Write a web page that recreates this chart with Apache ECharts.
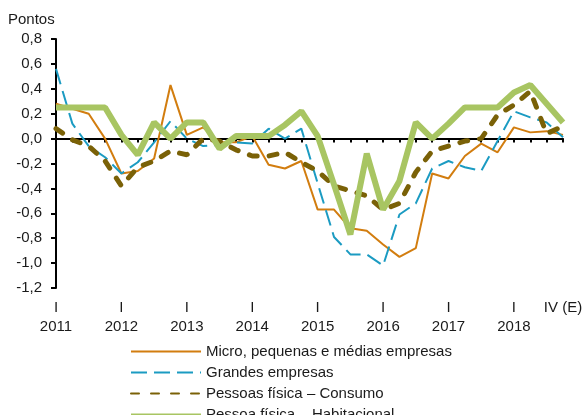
<!DOCTYPE html>
<html>
<head>
<meta charset="utf-8">
<script src="https://cdn.jsdelivr.net/npm/echarts@6/dist/echarts.min.js"></script>
<style>
html,body{margin:0;padding:0;background:#fff;}
#c{width:587px;height:415px;}
</style>
</head>
<body>
<div id="c"></div>
<script>
// Quarterly categories 2011 Q1 .. 2018 Q4
const quarters = [
  '2011 I','2011 II','2011 III','2011 IV',
  '2012 I','2012 II','2012 III','2012 IV',
  '2013 I','2013 II','2013 III','2013 IV',
  '2014 I','2014 II','2014 III','2014 IV',
  '2015 I','2015 II','2015 III','2015 IV',
  '2016 I','2016 II','2016 III','2016 IV',
  '2017 I','2017 II','2017 III','2017 IV',
  '2018 I','2018 II','2018 III','2018 IV (E)'
];
const tickLabels = [
  'I\n2011','','','',
  'I\n2012','','','',
  'I\n2013','','','',
  'I\n2014','','','',
  'I\n2015','','','',
  'I\n2016','','','',
  'I\n2017','','','',
  'I\n2018','','','IV (E)'
];
const seriesNames = [
  'Micro, pequenas e médias empresas',
  'Grandes empresas',
  'Pessoas física – Consumo',
  'Pessoa física – Habitacional'
];
const micro = [0.28,0.24,0.20,0.00,-0.28,-0.26,-0.16,0.43,0.03,0.09,-0.03,-0.03,0.02,-0.21,-0.24,-0.18,
  -0.57,-0.57,-0.72,-0.74,-0.85,-0.95,-0.88,-0.28,-0.32,-0.14,-0.04,-0.11,0.09,0.05,0.06,0.03];
const grandes = [0.56,0.12,-0.06,-0.15,-0.28,-0.19,-0.03,0.14,0.00,-0.06,-0.05,-0.03,-0.04,0.08,0.00,0.08,
  -0.36,-0.79,-0.93,-0.93,-1.02,-0.61,-0.52,-0.24,-0.18,-0.23,-0.26,-0.02,0.22,0.17,0.13,0.01];
const consumo = [0.08,-0.01,-0.06,-0.18,-0.38,-0.23,-0.18,-0.10,-0.13,0.00,-0.02,-0.09,-0.14,-0.14,-0.11,-0.19,
  -0.26,-0.38,-0.42,-0.46,-0.57,-0.52,-0.27,-0.10,-0.06,-0.02,0.00,0.19,0.27,0.38,0.04,0.10];
const habitacional = [0.25,0.25,0.25,0.25,0.03,-0.13,0.13,0.00,0.13,0.13,-0.08,0.02,0.02,0.02,0.11,0.22,
  0.02,-0.37,-0.77,-0.12,-0.57,-0.34,0.13,0.00,0.12,0.25,0.25,0.25,0.37,0.43,0.28,0.13];

const FONT = 'Liberation Sans, Arial, sans-serif';
const TXT = '#1a1a1a';

const chart = echarts.init(document.getElementById('c'), null, {renderer:'canvas'});
chart.setOption({
  animation:false,
  backgroundColor:'#ffffff',
  textStyle:{fontFamily:FONT},
  graphic:[{type:'text', left:8, top:12, style:{text:'Pontos', fontSize:15, fontFamily:FONT, fill:TXT}}],
  legend:{
    orient:'vertical', left:130, top:344, height:100, padding:0,
    itemWidth:70, itemHeight:14, itemGap:6,
    itemStyle:{opacity:0},
    textStyle:{fontSize:15, color:TXT, fontFamily:FONT},
    data:seriesNames
  },
  grid:{left:56, right:24, top:39, bottom:127, containLabel:false},
  xAxis:[
    {type:'category', data:quarters, boundaryGap:false, position:'bottom',
     axisLine:{show:true, onZero:true, lineStyle:{color:'#000', width:2}},
     axisTick:{show:true, interval:0, length:4, lineStyle:{color:'#000', width:2}},
     axisLabel:{show:false}, splitLine:{show:false}},
    {type:'category', data:quarters, boundaryGap:false, position:'bottom',
     axisLine:{show:false, onZero:false}, axisTick:{show:false},
     axisLabel:{show:true, interval:0, margin:10, fontSize:15, lineHeight:19, color:TXT, fontFamily:FONT,
       formatter:function(v, i){ return tickLabels[i]; }},
     splitLine:{show:false}}
  ],
  yAxis:{
    type:'value', min:-1.2, max:0.8, interval:0.2,
    axisLine:{show:true, lineStyle:{color:'#000', width:2}},
    axisTick:{show:true, length:5, lineStyle:{color:'#000', width:2}},
    splitLine:{show:false},
    axisLabel:{margin:14, fontSize:15, color:TXT, fontFamily:FONT,
      formatter:function(v){ return v.toFixed(1).replace('.', ','); }}
  },
  series:[
    {name:seriesNames[0], type:'line', data:micro, symbol:'none', xAxisIndex:0,
     lineStyle:{color:'#d27d0f', width:2}, itemStyle:{color:'#d27d0f'}},
    {name:seriesNames[1], type:'line', data:grandes, symbol:'none', xAxisIndex:0,
     lineStyle:{color:'#1b9bc2', width:2, type:[16,7]}, itemStyle:{color:'#1b9bc2'}},
    {name:seriesNames[2], type:'line', data:consumo, symbol:'none', xAxisIndex:0,
     lineStyle:{color:'#7a6107', width:5, type:[8,12], cap:'round'}, itemStyle:{color:'#7a6107'}},
    {name:seriesNames[3], type:'line', data:habitacional, symbol:'none', xAxisIndex:0,
     lineStyle:{color:'#a8c562', width:6}, itemStyle:{color:'#a8c562'}}
  ]
});
</script>
</body>
</html>
